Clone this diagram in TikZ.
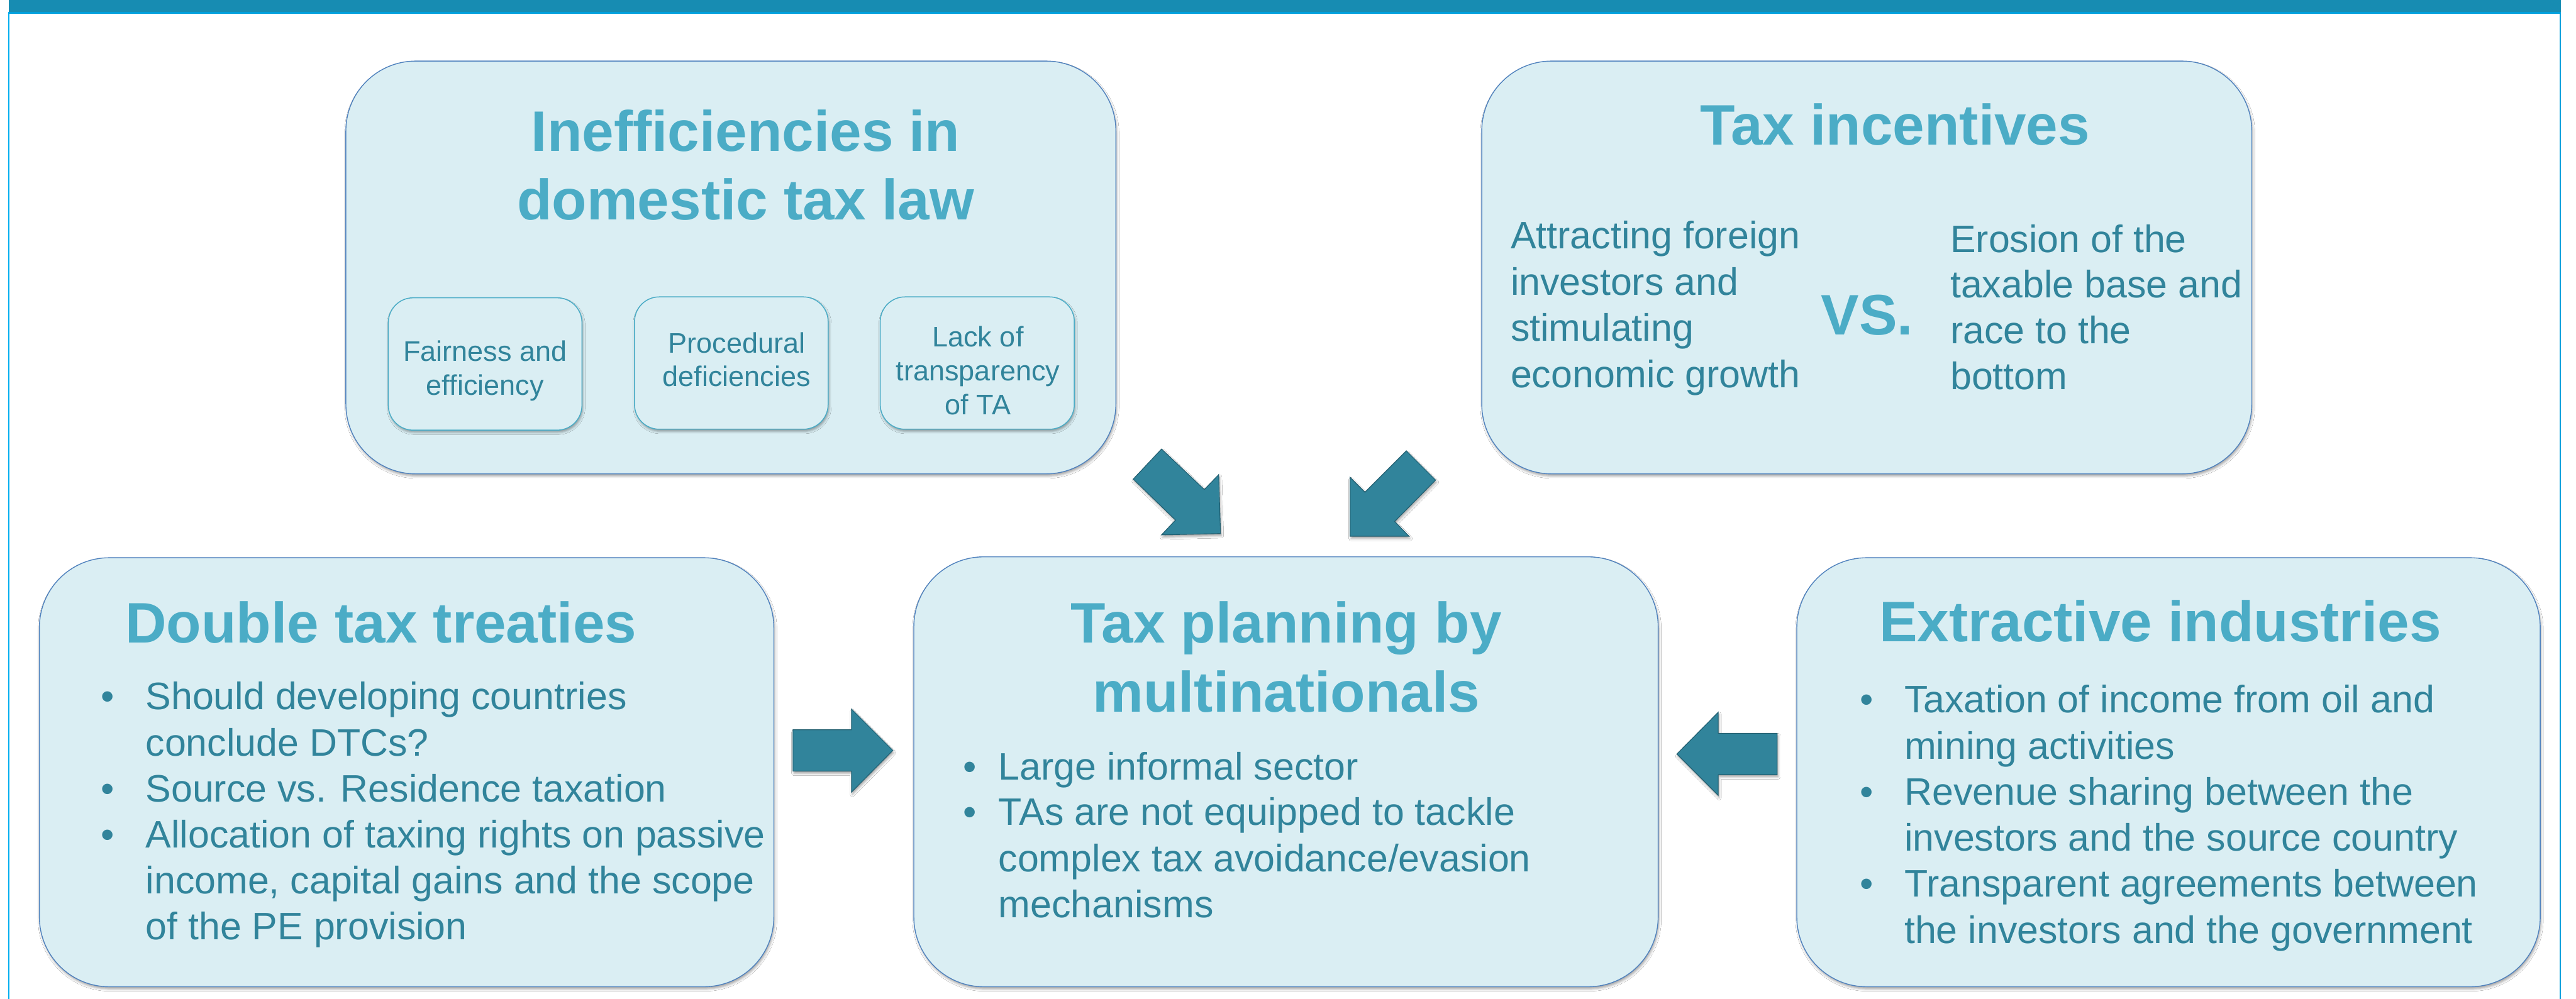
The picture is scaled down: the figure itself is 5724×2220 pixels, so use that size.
\documentclass[tikz,border=0pt]{standalone}
\usepackage{fontspec}
\setmainfont{Liberation Sans}
\usetikzlibrary{shadows.blur}

\definecolor{bandcol}{HTML}{178CB2}
\definecolor{bandline}{HTML}{00A0DC}
\definecolor{sideline}{HTML}{00AEEF}
\definecolor{boxfill}{HTML}{DAEEF3}
\definecolor{boxline}{HTML}{4F81BD}
\definecolor{subline}{HTML}{4BACC6}
\definecolor{titleblue}{HTML}{4BACC6}
\definecolor{bodyteal}{HTML}{31849B}
\definecolor{arrowfill}{HTML}{31849B}
\definecolor{arrowline}{HTML}{235F70}

\tikzset{
  softshadow/.style={blur shadow={shadow xshift=0.02cm, shadow yshift=-0.05cm,
      shadow blur radius=0.05cm, shadow opacity=35}},
  bigbox/.style={draw=boxline, line width=0.55pt, fill=boxfill,
      rounded corners=1.55cm, inner sep=0, softshadow},
  smallbox/.style={draw=subline, line width=0.6pt, fill=boxfill,
      rounded corners=0.55cm, inner sep=0, softshadow},
  ttl/.style={text=titleblue, font=\fontsize{36.1pt}{43pt}\selectfont\bfseries,
      inner sep=0, anchor=base},
  txt/.style={text=bodyteal, font=\fontsize{24.2pt}{29pt}\selectfont,
      inner sep=0, anchor=base west},
  sub/.style={text=bodyteal, font=\fontsize{17.9pt}{21.5pt}\selectfont,
      inner sep=0, anchor=base},
  blockarrow/.style={fill=arrowfill, draw=arrowline, line width=0.45pt,
      line join=miter, softshadow}
}

\begin{document}
\begin{tikzpicture}[x=0.01cm, y=-0.01cm]
  % page and frame
  \useasboundingbox (0,0) rectangle (5724,2220);
  \fill[white] (0,0) rectangle (5724,2220);
  \fill[bandcol] (19,0) rectangle (5691,27);
  \fill[bandline] (19,27) rectangle (5691,31);
  \fill[sideline] (18,27) rectangle (20.5,2220);
  \fill[bandline] (5687,27) rectangle (5690.5,2220);

  % ---------- boxes ----------
  \node[bigbox, minimum width=17.10cm, minimum height=9.17cm] (ineff) at (1624,594.5) {};
  \node[bigbox, minimum width=17.10cm, minimum height=9.17cm] (incent) at (4148,594.5) {};
  \node[bigbox, minimum width=16.31cm, minimum height=9.53cm] (dtt) at (903.5,1716.5) {};
  \node[bigbox, minimum width=16.53cm, minimum height=9.55cm] (tpm) at (2857.5,1715.5) {};
  \node[bigbox, minimum width=16.51cm, minimum height=9.53cm] (ext) at (4818.5,1716.5) {};

  \node[smallbox, minimum width=4.30cm, minimum height=2.94cm] (fair) at (1078,809) {};
  \node[smallbox, minimum width=4.30cm, minimum height=2.94cm] (proc) at (1625,807) {};
  \node[smallbox, minimum width=4.31cm, minimum height=2.94cm] (lack) at (2171.5,807) {};

  % ---------- block arrows ----------
  \draw[blockarrow] (2581,998) -- (2518,1065) -- (2612,1156) -- (2581,1189)
        -- (2712,1186) -- (2708,1055) -- (2676,1088) -- cycle;
  \draw[blockarrow] (3125,1002) -- (3190,1067) -- (3099,1159) -- (3131,1192)
        -- (3000,1192) -- (3000,1061) -- (3033,1094) -- cycle;
  \draw[blockarrow] (1762,1622) -- (1892,1622) -- (1892,1576) -- (1984,1668)
        -- (1892,1761) -- (1892,1714) -- (1762,1714) -- cycle;
  \draw[blockarrow] (3949,1630) -- (3818,1630) -- (3818,1583) -- (3726,1676)
        -- (3818,1768) -- (3818,1722) -- (3949,1722) -- cycle;

  % ---------- Inefficiencies in domestic tax law ----------
  \node[ttl] (ineffA) at (1657,336) {Inefficiencies in};
  \node[ttl] (ineffB) at (1657,489) {domestic tax law};
  \node[sub] (fairA) at (1078,803) {Fairness and};
  \node[sub] (fairB) at (1078,878) {efficiency};
  \node[sub] (procA) at (1637,784) {Procedural};
  \node[sub] (procB) at (1637,859) {deficiencies};
  \node[sub] (lackA) at (2173,770) {Lack of};
  \node[sub] (lackB) at (2173,846) {transparency};
  \node[sub] (lackC) at (2173,922) {of TA};

  % ---------- Tax incentives ----------
  \node[ttl] (incT) at (4211,322) {Tax incentives};
  \node[txt] (incL1) at (3356,553) {Attracting foreign};
  \node[txt] (incL2) at (3356,656) {investors and};
  \node[txt] (incL3) at (3356,758) {stimulating};
  \node[txt] (incL4) at (3356,861) {economic growth};
  \node[ttl, anchor=base west] (vs) at (4046,744) {VS.};
  \node[txt] (incR1) at (4333,561) {Erosion of the};
  \node[txt] (incR2) at (4333,662) {taxable base and};
  \node[txt] (incR3) at (4333,764) {race to the};
  \node[txt] (incR4) at (4333,866) {bottom};

  % ---------- Double tax treaties ----------
  \node[ttl] (dttT) at (846.5,1429) {Double tax treaties};
  \node[txt] (dttB1) at (223,1577) {\textbullet};
  \node[txt] (dttL1) at (323,1577) {Should developing countries};
  \node[txt] (dttL2) at (323,1680) {conclude DTCs?};
  \node[txt] (dttB2) at (223,1782) {\textbullet};
  \node[txt] (dttL3) at (323,1782) {Source vs. Residence taxation};
  \node[txt] (dttB3) at (223,1885) {\textbullet};
  \node[txt] (dttL4) at (323,1885) {Allocation of taxing rights on passive};
  \node[txt] (dttL5) at (323,1987) {income, capital gains and the scope};
  \node[txt] (dttL6) at (323,2089) {of the PE provision};

  % ---------- Tax planning by multinationals ----------
  \node[ttl] (tpmA) at (2858,1429) {Tax planning by};
  \node[ttl] (tpmB) at (2858,1582) {multinationals};
  \node[txt] (tpmB1) at (2140,1733) {\textbullet};
  \node[txt] (tpmL1) at (2218,1733) {Large informal sector};
  \node[txt] (tpmB2) at (2140,1834) {\textbullet};
  \node[txt] (tpmL2) at (2218,1834) {TAs are not equipped to tackle};
  \node[txt] (tpmL3) at (2218,1937) {complex tax avoidance/evasion};
  \node[txt] (tpmL4) at (2218,2039) {mechanisms};

  % ---------- Extractive industries ----------
  \node[ttl] (extT) at (4800,1426) {Extractive industries};
  \node[txt] (extB1) at (4132,1584) {\textbullet};
  \node[txt] (extL1) at (4231,1584) {Taxation of income from oil and};
  \node[txt] (extL2) at (4231,1687) {mining activities};
  \node[txt] (extB2) at (4132,1789) {\textbullet};
  \node[txt] (extL3) at (4231,1789) {Revenue sharing between the};
  \node[txt] (extL4) at (4231,1892) {investors and the source country};
  \node[txt] (extB3) at (4132,1994) {\textbullet};
  \node[txt] (extL5) at (4231,1994) {Transparent agreements between};
  \node[txt] (extL6) at (4231,2097) {the investors and the government};
\end{tikzpicture}
\end{document}
